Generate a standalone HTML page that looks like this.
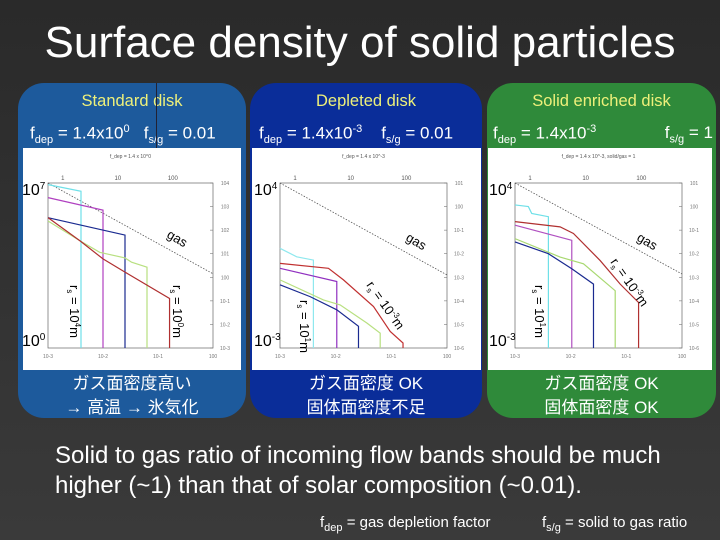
<!DOCTYPE html>
<html><head><meta charset="utf-8">
<style>
body{margin:0;width:720px;height:540px;overflow:hidden;background:#333;font-family:"Liberation Sans","Noto Sans CJK JP",sans-serif;color:#fff;position:relative}
.abs{position:absolute}
.title{left:0;width:720px;top:18px;text-align:center;font-size:44px}
.panel{position:absolute;top:83px;height:335px;border-radius:26px}
.ph{position:absolute;width:100%;text-align:center;top:9px;font-size:16.5px;color:#eef07a}
.pf{position:absolute;top:40px;font-size:17px;white-space:nowrap}
.pj{position:absolute;width:100%;text-align:center;top:289px;font-size:17px;line-height:24px}
sub,sup{font-size:11px}
</style></head><body>
<div class="abs" style="left:0;top:0;width:720px;height:540px;background:linear-gradient(#2a2a2a,#3a3a3a)"></div>
<div class="abs title">Surface density of solid particles</div>

<div class="panel" style="left:18px;width:228px;background:#1d5a9c">
 <div class="ph">Standard disk</div>
 <div class="pf" style="left:12px">f<sub>dep</sub> = 1.4x10<sup>0</sup> &nbsp; f<sub>s/g</sub> = 0.01</div>
 <div class="pj">ガス面密度高い<br>→ 高温 → 氷気化</div>
</div>
<div class="panel" style="left:250px;width:232px;background:#0a2d99">
 <div class="ph">Depleted disk</div>
 <div class="pf" style="left:9px">f<sub>dep</sub> = 1.4x10<sup>-3</sup> &nbsp;&nbsp; f<sub>s/g</sub> = 0.01</div>
 <div class="pj">ガス面密度 OK<br>固体面密度不足</div>
</div>
<div class="panel" style="left:487px;width:229px;background:#2f8a3a">
 <div class="ph">Solid enriched disk</div>
 <div class="pf" style="left:6px;width:220px">f<sub>dep</sub> = 1.4x10<sup>-3</sup><span style="position:absolute;right:0">f<sub>s/g</sub> = 1</span></div>
 <div class="pj">ガス面密度 OK<br>固体面密度 OK</div>
</div>
<div class="abs" style="left:156px;top:83px;width:1px;height:66px;background:#223"></div>

<svg id="chart" class="abs" style="left:0;top:0" width="720" height="540"></svg>

<div class="abs" style="left:55px;top:441px;font-size:24px;line-height:30px;white-space:nowrap">Solid to gas ratio of incoming flow bands should be much<br>higher (~1) than that of solar composition (~0.01).</div>
<div class="abs" style="left:320px;top:514px;font-size:15px">f<sub>dep</sub> = gas depletion factor</div>
<div class="abs" style="left:542px;top:514px;font-size:15px">f<sub>s/g</sub> = solid to gas ratio</div>

<script>
// panel 1: standard disk (log10 r, log10 Sigma)
const p1Gas=[[-3,7],[0,3.15]];
const p1Cyan=[[-3,6.93],[-2.4,6.65]];
const p1Magenta=[[-3,6.38],[-2.0,5.85]];
const p1Blue=[[-3,5.53],[-1.6,4.79]];
const p1Green=[[-3,5.39],[-2.42,4.55],[-2.06,4.06],[-1.6,3.82],[-1.48,3.64],[-1.2,3.43]];
const p1Red=[[-3,5.53],[-2.42,4.55],[-2.0,3.78],[-1.6,3.22],[-0.79,2.1]];
// panel 2: depleted disk
const p2Gas=[[-3,4],[0,0.1]];
const p2Cyan=[[-3,1.23],[-2.7,0.87],[-2.4,0.73]];
const p2Red=[[-3,0.59],[-2.13,0.38],[-1.86,-0.11],[-1.32,-1.24],[-1.02,-2.3],[-0.79,-2.79]];
const p2Magenta=[[-3,0.38],[-1.98,-0.18]];
const p2Green=[[-3,-0.11],[-2.22,-0.96],[-1.92,-1.17],[-1.44,-1.94],[-1.2,-2.37]];
const p2Blue=[[-3,-0.32],[-2.46,-0.82],[-1.98,-1.38],[-1.59,-2.08]];
// panel 3: solid enriched disk
const p3Gas=[[-3,4],[0,0.14]];
const p3Cyan=[[-3,3.07],[-2.76,3.0],[-2.7,2.71],[-2.4,2.57]];
const p3Red=[[-3,2.36],[-2.19,2.14],[-1.95,1.86],[-1.47,0.71],[-1.11,-0.29],[-0.78,-1.07]];
const p3Magenta=[[-3,2.21],[-1.98,1.57]];
const p3Green=[[-3,1.64],[-2.19,0.86],[-1.77,0.57],[-1.2,-0.57]];
const p3Blue=[[-3,1.5],[-2.4,1.0],[-1.98,0.36],[-1.59,-0.29]];
const topTicks=["1","10","100"];

const NS="http://www.w3.org/2000/svg";
const svg=document.getElementById('chart');
function mk(t,a,p){const e=document.createElementNS(NS,t);for(const k in a)e.setAttribute(k,a[k]);(p||svg).appendChild(e);return e;}

function panel(cfg){
  const g=mk('g',{});
  
  
  const bg=mk('rect',{x:cfg.bx,y:148,width:cfg.bw,height:222,fill:'#fff'},g);
  
  
  const L=cfg.x0,R=cfg.x1,T=183,B=348;
  const xs=v=>L+(v+3)/3*(R-L);
  const ys=v=>B-(v-cfg.ymin)/(cfg.ymax-cfg.ymin)*(B-T);
  const fr=mk('rect',{x:L,y:T,width:R-L,height:B-T,fill:'none',stroke:'#666','stroke-width':0.7},g);
  
  
  for(let d=-3;d<=0;d++){
    const t=mk('text',{x:xs(d),y:B+10,'font-size':5,fill:'#777','text-anchor':'middle'},g);t.textContent='10'+(d===0?'0':d);
    
    
  }
  topTicks.forEach((s,i)=>{
    const t=mk('text',{x:xs(-3+0.27+i),y:T-3,'font-size':6,fill:'#555','text-anchor':'middle'},g);t.textContent=s;
    
    
  });
  for(let d=cfg.ymin;d<=cfg.ymax;d++){
    const t=mk('text',{x:R+12,y:ys(d)+2,'font-size':5,fill:'#777','text-anchor':'middle'},g);t.textContent='10'+(d-3);
    
    
    mk('line',{x1:R-3,x2:R,y1:ys(d),y2:ys(d),stroke:'#777','stroke-width':0.6},g);
  }
  const ht=mk('text',{x:(L+R)/2,y:158,'font-size':5,fill:'#555','text-anchor':'middle'},g);ht.textContent=cfg.head;
  
  
  const gl=mk('polyline',{points:cfg.gas.map(p=>xs(p[0])+','+ys(p[1])).join(' '),fill:'none',stroke:'#555','stroke-width':0.8,'stroke-dasharray':'1.5,1.5'},g);
  
  
  cfg.series.forEach(s=>{
    const pts=s.d.map(p=>[xs(p[0]),ys(p[1])]);
    const last=s.d[s.d.length-1];
    pts.push([xs(last[0]),B]);
    const pl=mk('polyline',{points:pts.map(p=>p.join(',')).join(' '),fill:'none',stroke:s.c,'stroke-width':1.2},g);
    
    
  });
  const top=mk('text',{x:L-26,y:T+12,'font-size':16,fill:'#000'},g);top.innerHTML='10<tspan font-size="10" dy="-6">'+cfg.ymax+'</tspan>';
  
  
  const bot=mk('text',{x:L-26,y:B-2,'font-size':16,fill:'#000'},g);bot.innerHTML='10<tspan font-size="10" dy="-6">'+cfg.ymin+'</tspan>';
  
  
  const gt=mk('text',{x:cfg.gasLab[0],y:cfg.gasLab[1],'font-size':13,fill:'#000',transform:'rotate(30 '+cfg.gasLab[0]+' '+cfg.gasLab[1]+')'},g);gt.textContent='gas';
  
  
  cfg.rs.forEach(r=>{
    const t=mk('text',{x:r.x,y:r.y,'font-size':13,fill:'#000',transform:'rotate('+r.a+' '+r.x+' '+r.y+')'},g);
    t.innerHTML='r<tspan font-size="8" dy="3">s</tspan><tspan dy="-3"> = 10</tspan><tspan font-size="8" dy="-5">'+r.e+'</tspan><tspan dy="5">m</tspan>';
    
    
  });
}
panel({name:'standard-disk-chart',bx:23,bw:218,x0:48,x1:213,ymin:0,ymax:7,head:'f_dep = 1.4 x 10^0',gas:p1Gas,gasLab:[166,237],
 series:[{n:'cyan-series',c:'#6fe0e8',d:p1Cyan},{n:'magenta-series',c:'#b040c0',d:p1Magenta},{n:'blue-series',c:'#1a2a90',d:p1Blue},{n:'green-series',c:'#b8e080',d:p1Green},{n:'red-series',c:'#b03030',d:p1Red}],
 rs:[{x:70,y:285,a:90,e:'4'},{x:173,y:285,a:90,e:'0'}]});
panel({name:'depleted-disk-chart',bx:252,bw:229,x0:280,x1:447,ymin:-3,ymax:4,head:'f_dep = 1.4 x 10^-3',gas:p2Gas,gasLab:[405,240],
 series:[{n:'cyan-series',c:'#8ee8ee',d:p2Cyan},{n:'red-series',c:'#c03030',d:p2Red},{n:'magenta-series',c:'#9030c0',d:p2Magenta},{n:'green-series',c:'#b8e080',d:p2Green},{n:'blue-series',c:'#1a2a90',d:p2Blue}],
 rs:[{x:300,y:300,a:90,e:'1'},{x:366,y:285,a:55,e:'-3'}]});
panel({name:'solid-enriched-disk-chart',bx:488,bw:224,x0:515,x1:682,ymin:-3,ymax:4,head:'f_dep = 1.4 x 10^-3, solid/gas = 1',gas:p3Gas,gasLab:[636,240],
 series:[{n:'cyan-series',c:'#6fe0e8',d:p3Cyan},{n:'red-series',c:'#b03030',d:p3Red},{n:'magenta-series',c:'#b050c0',d:p3Magenta},{n:'green-series',c:'#a8d870',d:p3Green},{n:'blue-series',c:'#1a2a90',d:p3Blue}],
 rs:[{x:535,y:285,a:90,e:'1'},{x:610,y:262,a:55,e:'-3'}]});
</script>
</body></html>
